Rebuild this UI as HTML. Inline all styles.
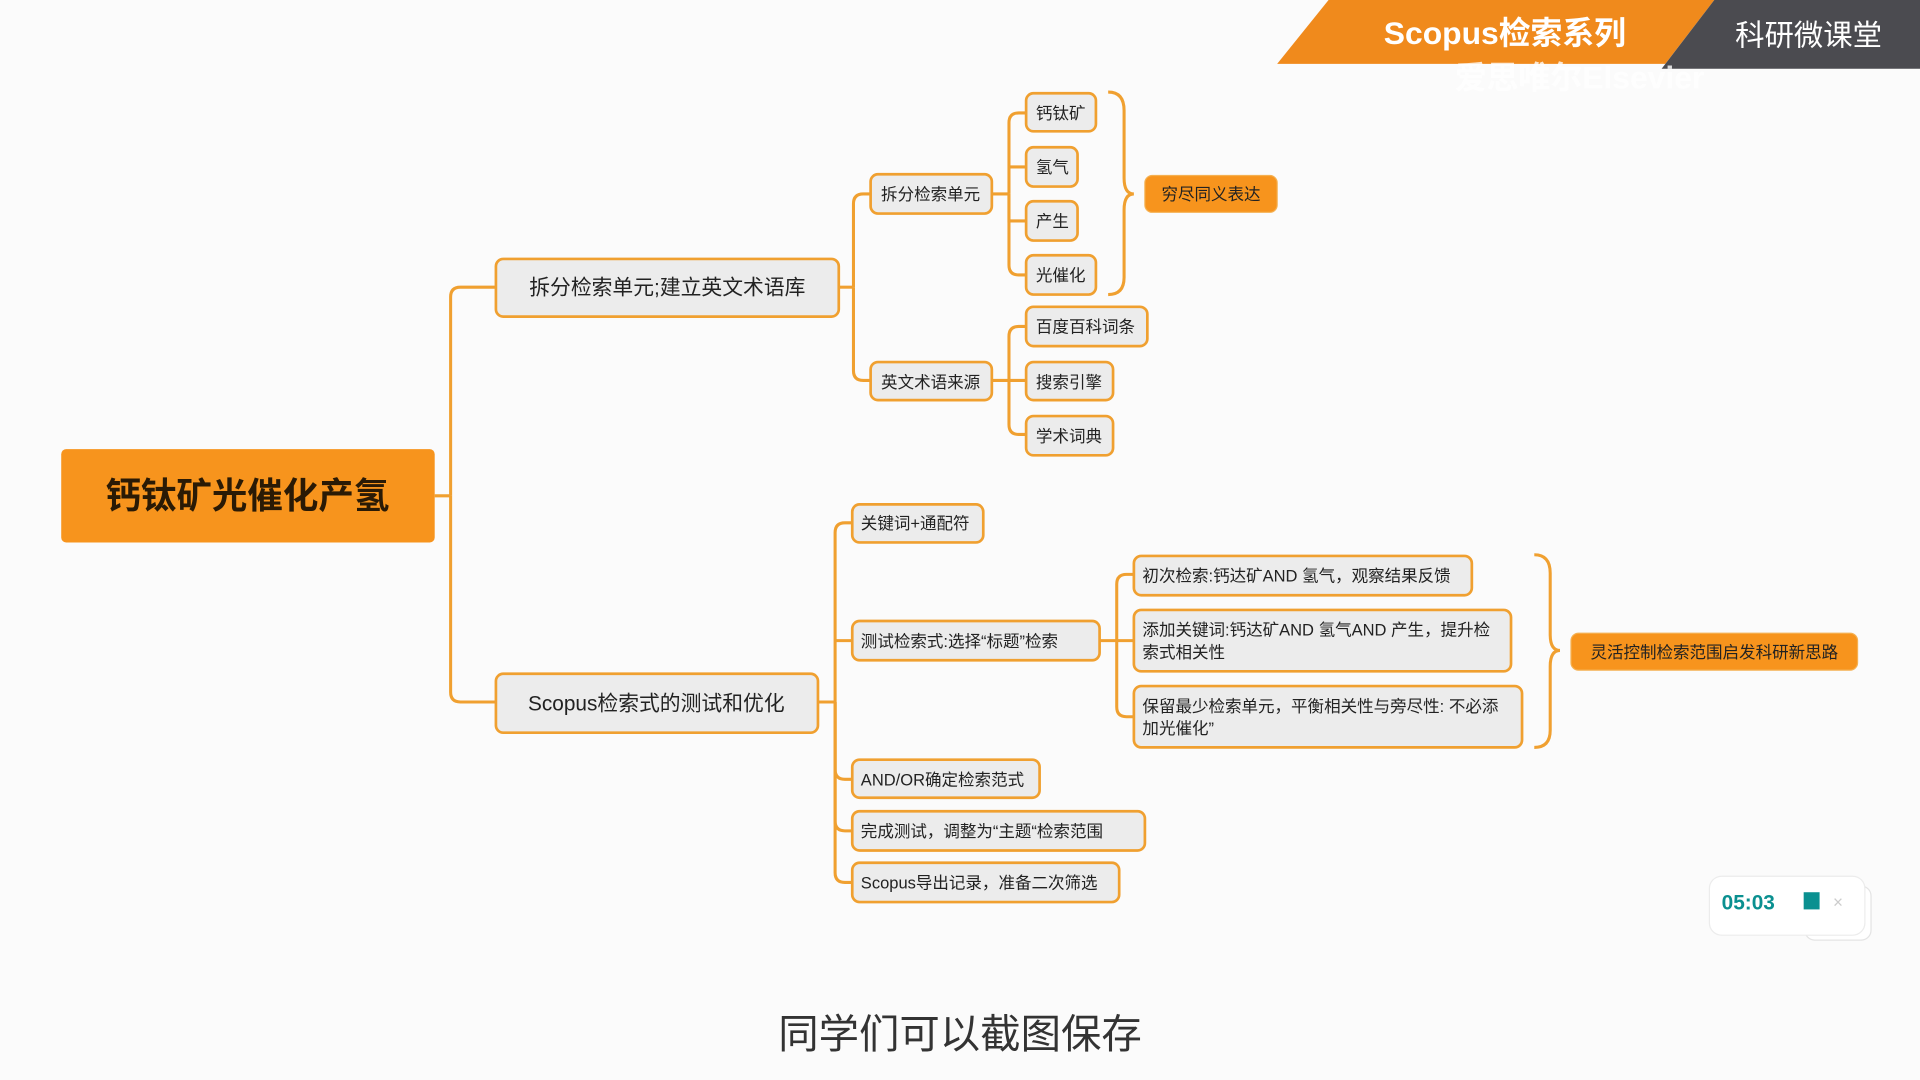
<!DOCTYPE html>
<html><head><meta charset="utf-8"><style>
html,body{margin:0;padding:0;background:#fbfbfb;width:1920px;height:1080px;overflow:hidden}
svg{display:block}
text{font-family:"Liberation Sans","Noto Sans CJK SC",sans-serif;fill:#222}
</style></head><body>
<svg width="1920" height="1080" viewBox="0 0 1568 880" preserveAspectRatio="none">
<rect width="1568" height="880" fill="#fbfbfb"/>
<!-- banner -->
<polygon points="1085,0 1400,0 1360,52 1043,52" fill="#f08a1c"/>
<polygon points="1400,0 1568,0 1568,56 1357,56" fill="#4b4b50"/>
<text x="1229" y="36" font-size="26" fill="#fff" style="fill:#fff" text-anchor="middle" font-weight="bold">Scopus检索系列</text>
<text x="1477" y="37" font-size="24" style="fill:#fff" text-anchor="middle">科研微课堂</text>
<text x="1290" y="72" font-size="26" style="fill:#fff;opacity:.8" text-anchor="middle" font-weight="bold">爱思唯尔Elsevier</text>
<g fill="none" stroke="#f0a030" stroke-width="2.5">
<!-- root to L1 -->
<path d="M355 404 H368"/>
<path d="M368 404 V242 Q368 234 376 234 H405"/>
<path d="M368 404 V564 Q368 572 376 572 H405"/>
<!-- L1a -->
<path d="M685 234 H697"/>
<path d="M697 234 V166 Q697 158 705 158 H711"/>
<path d="M697 234 V302 Q697 310 705 310 H711"/>
<!-- 拆分检索单元 children -->
<path d="M810 158 H824"/>
<path d="M824 158 V100 Q824 92 832 92 H838"/>
<path d="M824 136 H838"/>
<path d="M824 158 V180 H838"/>
<path d="M824 158 V216 Q824 224 832 224 H838"/>
<!-- 英文术语来源 children -->
<path d="M810 310 H824"/>
<path d="M824 310 V274 Q824 266 832 266 H838"/>
<path d="M824 310 H838"/>
<path d="M824 310 V346 Q824 354 832 354 H838"/>
<!-- L1b -->
<path d="M668 572 H682"/>
<path d="M682 572 V434 Q682 426 690 426 H696"/>
<path d="M682 522 H696"/>
<path d="M682 572 V627 Q682 635 690 635 H696"/>
<path d="M682 572 V669 Q682 677 690 677 H696"/>
<path d="M682 572 V711 Q682 719 690 719 H696"/>
<!-- test children -->
<path d="M898 522 H912"/>
<path d="M912 522 V476 Q912 468 920 468 H926"/>
<path d="M912 522 H926"/>
<path d="M912 522 V576 Q912 584 920 584 H926"/>
<!-- braces -->
<path d="M905 75 Q918 75 918 90 V145 Q918 158 926 158 Q918 158 918 171 V226 Q918 240 905 240"/>
<path d="M1253 452 Q1266 452 1266 467 V517 Q1266 530 1274 530 Q1266 530 1266 543 V595 Q1266 609 1253 609"/>
</g>
<!-- root -->
<rect x="50" y="366" width="305" height="76" rx="4" fill="#f7941d"/>
<text x="202" y="414" font-size="29" text-anchor="middle" font-weight="bold" style="fill:#2a1a05">钙钛矿光催化产氢</text>
<g fill="#ececec" stroke="#f0a030" stroke-width="2.2">
<rect x="405" y="211" width="280" height="47" rx="6"/>
<rect x="405" y="549" width="263" height="48" rx="6"/>
<rect x="711" y="142" width="99" height="32" rx="6"/>
<rect x="711" y="295" width="99" height="31" rx="6"/>
<rect x="838" y="76" width="57" height="31" rx="6"/>
<rect x="838" y="120" width="42" height="32" rx="6"/>
<rect x="838" y="164" width="42" height="32" rx="6"/>
<rect x="838" y="208" width="57" height="32" rx="6"/>
<rect x="838" y="250" width="99" height="32" rx="6"/>
<rect x="838" y="295" width="71" height="31" rx="6"/>
<rect x="838" y="339" width="71" height="32" rx="6"/>
<rect x="696" y="411" width="107" height="31" rx="6"/>
<rect x="696" y="506" width="202" height="32" rx="6"/>
<rect x="696" y="619" width="153" height="31" rx="6"/>
<rect x="696" y="661" width="239" height="32" rx="6"/>
<rect x="696" y="703" width="218" height="32" rx="6"/>
<rect x="926" y="453" width="276" height="32" rx="6"/>
<rect x="926" y="497" width="308" height="50" rx="6"/>
<rect x="926" y="559" width="317" height="50" rx="6"/>
</g>
<rect x="935" y="143" width="108" height="30" rx="6" fill="#f7941d" stroke="#f5b050" stroke-width="1"/>
<rect x="1283" y="516" width="234" height="30" rx="6" fill="#f7941d" stroke="#f5b050" stroke-width="1"/>
<g font-size="17">
<text x="545" y="240" text-anchor="middle">拆分检索单元;建立英文术语库</text>
<text x="536" y="579" text-anchor="middle">Scopus检索式的测试和优化</text>
</g>
<g font-size="13.5">
<text x="760" y="163" text-anchor="middle">拆分检索单元</text>
<text x="760" y="316" text-anchor="middle">英文术语来源</text>
<text x="846" y="97">钙钛矿</text>
<text x="846" y="141">氢气</text>
<text x="846" y="185">产生</text>
<text x="846" y="229">光催化</text>
<text x="846" y="271">百度百科词条</text>
<text x="846" y="316">搜索引擎</text>
<text x="846" y="360">学术词典</text>
<text x="989" y="163" text-anchor="middle">穷尽同义表达</text>
<text x="703" y="431">关键词+通配符</text>
<text x="703" y="527">测试检索式:选择“标题”检索</text>
<text x="703" y="640">AND/OR确定检索范式</text>
<text x="703" y="682">完成测试，调整为“主题“检索范围</text>
<text x="703" y="724">Scopus导出记录，准备二次筛选</text>
<text x="933" y="474">初次检索:钙达矿AND 氢气，观察结果反馈</text>
<text x="933" y="518">添加关键词:钙达矿AND 氢气AND 产生，提升检</text>
<text x="933" y="536">索式相关性</text>
<text x="933" y="580">保留最少检索单元，平衡相关性与旁尽性: 不必添</text>
<text x="933" y="598">加光催化”</text>
<text x="1400" y="536" text-anchor="middle">灵活控制检索范围启发科研新思路</text>
</g>
<!-- timer -->
<rect x="1474" y="722" width="54" height="44" rx="8" fill="#fff" stroke="#e4e4e4"/>
<rect x="1396" y="714" width="127" height="48" rx="10" fill="#fff" stroke="#ececec"/>
<text x="1406" y="741" font-size="17" font-weight="bold" style="fill:#0a9090">05:03</text>
<rect x="1473" y="727" width="13" height="14" fill="#0a9090"/>
<text x="1497" y="740" font-size="14" style="fill:#cccccc">×</text>
<!-- subtitle -->
<text x="784" y="854" font-size="33" text-anchor="middle" style="fill:#333">同学们可以截图保存</text>
</svg>
</body></html>
